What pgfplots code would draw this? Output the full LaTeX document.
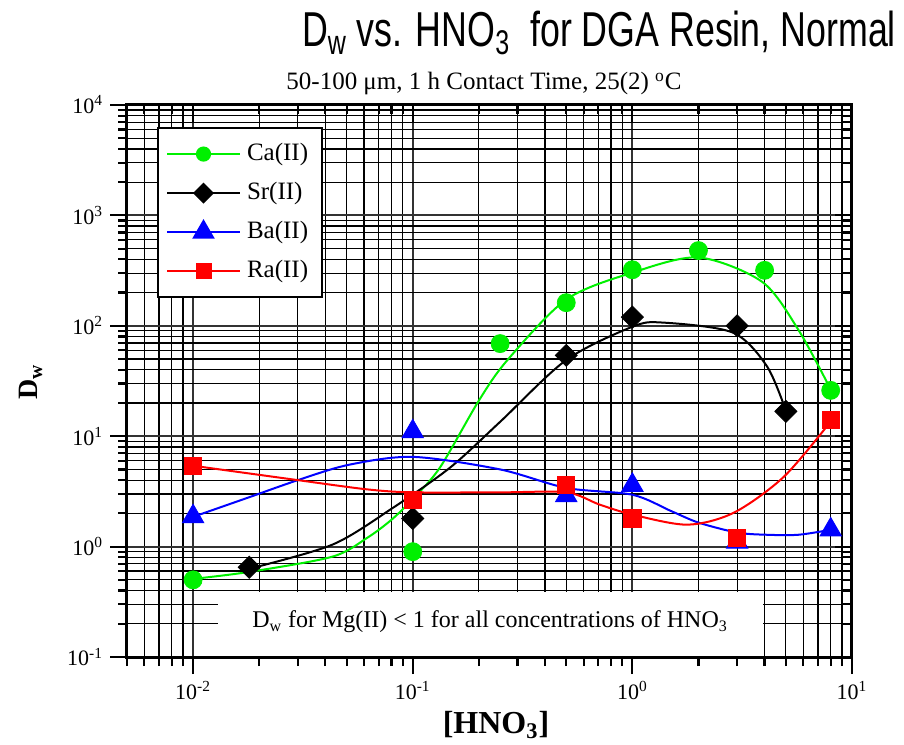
\documentclass[border=0pt]{standalone}
\usepackage{fontspec}
\setmainfont{Liberation Serif}
\newfontfamily\titlefont[FakeStretch=0.73]{Liberation Sans}
\usepackage{pgfplots}
\pgfplotsset{compat=1.18}

\definecolor{cagreen}{RGB}{0,240,0}
\definecolor{bablue}{RGB}{0,0,255}
\definecolor{rared}{RGB}{255,0,0}

\pgfplotsset{
  dwframe/.style={
    at={(0,0)}, anchor=south west,
    scale only axis, width=362.5pt, height=276pt,
    xmin=0.005, xmax=10, ymin=0.1, ymax=10000,
    xtick={0.01,0.1,1,10}, ytick={0.1,1,10,100,1000,10000},
    minor xtick={0.005,0.006,0.007,0.008,0.009,0.02,0.03,0.04,0.05,0.06,0.07,0.08,0.09,
                 0.2,0.3,0.4,0.5,0.6,0.7,0.8,0.9,2,3,4,5,6,7,8,9},
    minor ytick={0.2,0.3,0.4,0.5,0.6,0.7,0.8,0.9,2,3,4,5,6,7,8,9,
                 20,30,40,50,60,70,80,90,200,300,400,500,600,700,800,900,
                 2000,3000,4000,5000,6000,7000,8000,9000},
    major tick length=8.5pt, minor tick length=4.5pt,
    tick style={black, line width=1.1pt},
    axis line style={line width=1.5pt},
  },
}

\begin{document}
\begin{tikzpicture}
\useasboundingbox (-63.5pt,-43.5pt) rectangle (388.5pt,328.5pt);

\begin{loglogaxis}[
  dwframe,
  xticklabels={10\textsuperscript{-2},10\textsuperscript{-1},10\textsuperscript{0},10\textsuperscript{1}},
  yticklabels={10\textsuperscript{-1},10\textsuperscript{0},10\textsuperscript{1},10\textsuperscript{2},10\textsuperscript{3},10\textsuperscript{4}},
  tick label style={font=\fontsize{11}{13}\selectfont},
  grid=both,
  major grid style={black!80, line width=0.9pt},
  minor grid style={black, line width=0.6pt},
  tick align=outside, xtick pos=left, ytick pos=left,
  legend style={at={(0.0414,0.96)}, anchor=north west, draw=black, line width=1pt,
    font=\fontsize{12.5}{14}\selectfont, inner sep=4pt, row sep=1.5pt,
    nodes={inner sep=3pt, text height=9pt, text depth=3pt}, cells={anchor=west}},
  legend image code/.code={\draw[mark repeat=2, mark phase=2] plot coordinates {(0pt,0pt) (18.25pt,0pt) (36.5pt,0pt)};},
]

% fitted curves
\addplot[cagreen, line width=1pt, smooth, forget plot] coordinates {
  (0.01,0.51) (0.018,0.59) (0.043,0.81) (0.062,1.2) (0.08,1.75) (0.1,2.7) (0.133,5.2)
  (0.2,21) (0.27,49) (0.5,173) (1,303) (2,416) (3.9,250) (5.7,92) (8,26.5)};
\addplot[black, line width=1pt, smooth, forget plot] coordinates {
  (0.018,0.63) (0.043,1.04) (0.08,2.2) (0.148,5.2) (0.25,13.5) (0.5,49) (1,98)
  (1.37,107) (2.86,87) (4.1,43) (5,17)};
\addplot[bablue, line width=1pt, smooth, forget plot] coordinates {
  (0.01,1.86) (0.018,2.8) (0.03,4.0) (0.051,5.5) (0.1,6.5) (0.25,5.0) (0.5,3.4) (1,2.95)
  (1.5,2.1) (2,1.65) (3,1.34) (4.1,1.28) (5.7,1.28) (8,1.42)};
\addplot[rared, line width=1pt, smooth, forget plot] coordinates {
  (0.01,5.4) (0.03,4.0) (0.062,3.3) (0.1,3.1) (0.25,3.1) (0.5,3.1) (0.71,2.4) (1,1.95)
  (1.78,1.58) (2.9,2.03) (4.9,4.3) (8,13.6)};

% measured points
\addplot[only marks, mark=*, mark size=4.5pt, cagreen, forget plot] coordinates {
  (0.01,0.50) (0.1,0.90) (0.25,69) (0.5,162) (1,322) (2,480) (4,318) (8,26)};
\addplot[only marks, mark=square*, mark size=3.9pt, mark options={rotate=45}, black, forget plot] coordinates {
  (0.018,0.65) (0.1,1.8) (0.5,54) (1,120) (3,100) (5,16.8)};
\addplot[only marks, mark=triangle*, mark size=6.2pt, bablue, forget plot] coordinates {
  (0.01,1.87) (0.1,11) (0.5,2.9) (1,3.6) (3,1.1) (8,1.42)};
\addplot[only marks, mark=square*, mark size=4.3pt, rared, forget plot] coordinates {
  (0.01,5.4) (0.1,2.66) (0.5,3.65) (1,1.8) (3,1.2) (8,14)};

\addlegendimage{cagreen, line width=1pt, mark=*, mark size=3.3pt}
\addlegendentry{Ca(II)}
\addlegendimage{black, line width=1pt, mark=square*, mark size=3.2pt, mark options={rotate=45}}
\addlegendentry{Sr(II)}
\addlegendimage{bablue, line width=1pt, mark=triangle*, mark size=5.5pt}
\addlegendentry{Ba(II)}
\addlegendimage{rared, line width=1pt, mark=square*, mark size=3.5pt}
\addlegendentry{Ra(II)}

\fill[white] (axis cs:0.013,0.1) rectangle (axis cs:3.93,0.39);
\node[font=\fontsize{12}{14}\selectfont] at (axis cs:0.225,0.209)
  {D\textsubscript{w} for Mg(II) < 1 for all concentrations of HNO\textsubscript{3}};
\end{loglogaxis}

\begin{loglogaxis}[
  dwframe,
  xticklabels={}, yticklabels={},
  tick align=inside, xtick pos=right, ytick pos=right,
]
\end{loglogaxis}

\node[anchor=base, font=\titlefont\fontsize{24.5}{28}\selectfont] at (236pt,305pt)
  {D\textsubscript{w} vs. HNO\textsubscript{3}\ \ for DGA Resin, Normal};
\node[anchor=base, font=\fontsize{12.5}{14}\selectfont] at (178.5pt,283.5pt)
  {50-100 μm, 1 h Contact Time, 25(2) \textsuperscript{o}C};
\node[anchor=base, font=\bfseries\fontsize{16}{18}\selectfont] at (184.5pt,-38pt)
  {[HNO\textsubscript{3}]};
\node[rotate=90, font=\bfseries\fontsize{14}{16}\selectfont] at (-48pt,137.5pt)
  {D\textsubscript{w}};
\end{tikzpicture}
\end{document}
